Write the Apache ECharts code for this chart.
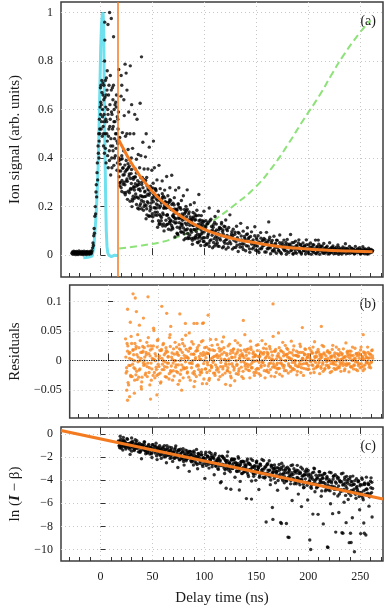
<!DOCTYPE html>
<html><head><meta charset="utf-8">
<script src="https://cdn.jsdelivr.net/npm/echarts@6/dist/echarts.min.js"></script>
<style>html,body{margin:0;padding:0;background:#fff}#c{width:385px;height:608px}</style>
</head><body><div id="c"></div><script>
// ---- tick values ----
const xMajorTicks=[0,50,100,150,200,250];
const xMinorTicks=[-30,-20,-10,10,20,30,40,60,70,80,90,110,120,130,140,160,170,180,190,210,220,230,240,260,270];
const yTicksA=[0,0.2,0.4,0.6,0.8,1];
const yTicksB=[-0.05,0,0.05,0.1];
const yTicksC=[-10,-8,-6,-4,-2,0];
const fitStart=17;
// ---- panel (a) ----
const cyanPulse=[[-16.5,-0.011],[-14,-0.01],[-11,-0.008],[-8,-0.004],[-6.5,0.03],[-5.4,0.09],[-4,0.18],[-3,0.28],[-2.3,0.36],[-1.5,0.5],[-0.8,0.64],[0.2,0.85],[1,0.95],[1.8,0.99],[2.5,1.0],[3.1,0.94],[3.6,0.72],[4.1,0.5],[5,0.23],[5.6,0.1],[6.3,0.035],[7,0.01],[8,0.0],[10.5,-0.006],[12,-0.002],[13.6,0.0],[15,-0.004],[16.7,-0.002]];
const greenCurve=[[18,0.027],[40,0.04],[60,0.055],[74,0.075],[90,0.1],[100,0.118],[113,0.155],[130,0.21],[148,0.275],[165,0.36],[180,0.453],[195,0.555],[211,0.659],[222,0.74],[233,0.817],[249,0.913],[260,0.968]];
const fitCurve=[[17,0.48],[20,0.455],[25,0.415],[30,0.378],[35,0.345],[40,0.315],[50,0.262],[60,0.219],[70,0.183],[80,0.153],[90,0.128],[100,0.106],[110,0.09],[120,0.077],[130,0.066],[140,0.057],[150,0.05],[160,0.043],[170,0.037],[180,0.032],[190,0.028],[200,0.025],[215,0.021],[230,0.018],[245,0.016],[262,0.014]];
const ionSignal=[
[-27.5,0.008],[-27,0.013],[-26.6,0.004],[-26.1,0.011],[-25.7,0.016],[-25.2,0.006],[-24.8,0.01],[-24.3,0.014],[-23.9,0.002],[-23.4,0.009],[-23,0.015],[-22.5,0.007],[-22.1,0.012],[-21.6,0.003],[-21.2,0.011],[-20.7,0.017],[-20.3,0.006],[-19.8,0.01],[-19.4,0.013],[-18.9,0.004],[-18.5,0.009],[-18,0.015],[-17.6,0.007],[-17.1,0.012],[-16.7,0.002],[-16.2,0.01],[-15.8,0.016],[-15.3,0.005],[-14.9,0.011],[-14.4,0.008],[-14,0.014],[-13.5,0.003],[-13.1,0.01],[-12.6,0.015],[-12.2,0.006],[-11.7,0.012],[-11.3,0.009],[-10.8,0.004],[-10.4,0.013],[-9.9,0.008],[-9.5,0.016],[-9,0.006],[-8.6,0.011],[-8.1,0.018],
[-7.6,0.03],[-7.2,0.05],[-6.8,0.04],[-6.5,0.08],[-6.1,0.11],[-5.8,0.09],[-5.4,0.16],[-5,0.2],[-4.7,0.17],[-4.3,0.26],[-4,0.29],[-3.7,0.24],[-3.3,0.34],[-3,0.38],[-2.7,0.31],[-2.3,0.45],[-2,0.42],[-1.7,0.5],[-1.3,0.47],[-1,0.56],[-0.7,0.52],[-0.3,0.61],[0,0.69],[0.2,0.58],[0.5,0.7],[0.8,0.62],[1.1,0.55],[1.4,0.67],[1.7,0.49],[2,0.6],[2.3,0.71],[2.6,0.53],[2.9,0.45],[3.2,0.64],[3.5,0.58],[3.8,0.42],[4,0.8],[4.1,0.96],[4.2,0.886],[4.5,0.5],[4.8,0.72],[5.1,0.61],[5.4,0.38],[5.7,0.73],[6,0.55],[6.3,0.68],[6.6,0.47],[7,0.6],[7.2,0.95],[7.5,0.36],[7.8,0.66],[8.1,0.52],[8.5,0.43],[8.8,1.0],[9.1,0.62],[9.4,0.56],[9.8,0.33],[10.1,0.48],[10.4,0.975],[10.4,0.68],[10.8,0.4],[11.1,0.58],[11.5,0.69],[11.8,0.45],[12,0.64],[12.3,0.53],[12.6,0.9],[12.9,0.37],[13.2,0.6],[13.6,0.48],[13.9,0.55],[14.3,0.41],[14.7,0.63],[15.2,0.61],[15.5,0.5],[15.9,0.35],[16.2,0.57],[16.6,0.46],[16.9,0.52],
[-1.5,0.4],[-0.5,0.5],[0.3,0.63],[0.7,0.52],[1.3,0.72],[1.9,0.57],[2.4,0.66],[2.8,0.5],[3.3,0.7],[3.7,0.55],[4.3,0.65],[4.7,0.44],[5.2,0.56],[5.6,0.66],[6.1,0.5],[6.5,0.76],[6.9,0.41],[7.3,0.58],[7.7,0.49],[8.2,0.7],[8.6,0.39],[9,0.53],[9.5,0.74],[9.9,0.45],[10.6,0.59],[11,0.36],[11.6,0.52],[12.1,0.43],[12.5,0.7],[13,0.55],[13.5,0.4],[14,0.62],[14.5,0.5],[15,0.44],[15.4,0.66],[15.8,0.47],[16.3,0.38],[16.7,0.56],
[17.6,0.765],[20.5,0.70],[23.7,0.787],[24.7,0.75],[25.5,0.68],[22.5,0.64],[19.9,0.74],[28.7,0.78],[38.2,0.626],[39.5,0.817],[44,0.5],[51,0.47],[30,0.62],[33,0.58],
[17.3,0.59],[17.9,0.39],[18.6,0.485],[19.2,0.30],[19.8,0.655],[20.5,0.41],[21.1,0.505],[21.7,0.33],
[22.3,0.43],[22.9,0.575],[23.5,0.29],[24.1,0.49],[24.8,0.39],[25.4,0.50],[26.0,0.23],[26.6,0.435],
[27.2,0.59],[27.8,0.335],[28.4,0.50],[29.0,0.275],[29.7,0.40],[30.3,0.20],[30.9,0.44],[31.5,0.32],
[32.1,0.50],[32.7,0.28],[33.3,0.356],[34.0,0.24],[34.6,0.395],[35.2,0.56],[35.8,0.307],[36.4,0.415],
[37.0,0.19],[37.7,0.36],[38.3,0.265],[38.9,0.41],[39.5,0.225],[40.2,0.32],[40.8,0.465],[41.4,0.185],
[42.0,0.355],[42.6,0.26],[43.3,0.405],[43.9,0.15],[44.5,0.32],[45.1,0.22],[45.7,0.355],[46.4,0.268],[47.0,0.445],
[47.6,0.183],[48.2,0.284],[48.8,0.215],[49.5,0.35],[50.1,0.14],[50.7,0.296],[51.3,0.25],[51.9,0.36],
[52.6,0.177],[53.2,0.271],[53.8,0.211],[54.4,0.31],[55.0,0.115],[55.7,0.242],[56.3,0.37],[56.9,0.167],
[57.5,0.274],[58.1,0.128],[58.7,0.215],[59.4,0.306],[60.0,0.174],[60.6,0.243],[61.2,0.10],[61.8,0.268],
[62.4,0.22],[63.0,0.144],[63.7,0.324],[64.3,0.167],[64.9,0.245],[65.5,0.107],[66.1,0.218],[66.8,0.278],
[67.4,0.14],[68.0,0.188],[68.6,0.329],[69.2,0.114],[69.9,0.214],[70.5,0.157],[71.1,0.237],[71.7,0.075],
[72.3,0.268],[73.0,0.134],[73.6,0.185],[74.2,0.088],[74.8,0.212],[75.4,0.278],[76.1,0.151],[76.7,0.196],
[77.3,0.097],[77.9,0.225],[78.5,0.128],[79.2,0.151],[79.8,0.245],[80.4,0.063],[81.0,0.171],[81.6,0.104],
[82.3,0.201],[82.9,0.125],[83.5,0.269],[84.1,0.068],[84.7,0.145],[85.4,0.178],[86.0,0.083],[86.6,0.208],
[87.2,0.101],[87.8,0.146],[88.5,0.045],[89.1,0.176],[89.7,0.122],[90.3,0.216],[90.9,0.067],[91.6,0.146],
[92.2,0.097],[92.8,0.185],[93.4,0.053],[94.0,0.126],[94.7,0.25],[95.3,0.076],[95.9,0.145],[96.5,0.04],
[97.1,0.163],[97.8,0.095],[98.4,0.124],[99.0,0.056],[99.6,0.181],[100.2,0.072],[100.9,0.107],[101.5,0.142],
[102.4,0.044],[103.1,0.129],[103.9,0.088],[104.7,0.194],[105.5,0.06],[106.3,0.148],
[107.1,0.099],[107.9,0.03],[108.7,0.125],[109.5,0.068],[110.3,0.159],[111.1,0.045],[111.8,0.104],
[112.6,0.072],[113.4,0.181],[114.2,0.036],[115.0,0.111],[115.8,0.083],[116.6,0.135],
[117.4,0.03],[118.2,0.087],[119.0,0.119],[119.8,0.049],[120.6,0.145],[121.4,0.065],
[122.2,0.101],[123.0,0.032],[123.8,0.072],[124.6,0.166],[125.4,0.047],[126.2,0.087],
[127.0,0.025],[127.8,0.107],[128.6,0.061],[129.4,0.086],[130.2,0.032],[131.0,0.119],
[131.8,0.072],[132.6,0.015],[133.4,0.09],[134.2,0.045],[135.0,0.131],[135.8,0.063],[136.6,0.034],
[137.4,0.099],[138.2,0.046],[139.0,0.069],[139.8,0.018],[140.6,0.085],[141.4,0.113],
[142.2,0.037],[143.0,0.073],[143.8,0.012],[144.6,0.055],[145.4,0.096],[146.2,0.026],
[147.0,0.063],[147.8,0.044],[148.6,0.117],[149.4,0.02],[150.2,0.071],[151.0,0.037],
[151.8,0.08],[152.6,0.011],[153.4,0.051],[154.2,0.093],[155.0,0.026],[155.8,0.059],[156.6,0.041],
[157.4,0.069],[158.2,0.013],[159.0,0.052],[159.8,0.094],[160.6,0.027],[161.4,0.059],
[162.0,0.137],[162.2,0.033],[163.0,0.074],[163.8,0.006],[164.6,0.044],[165.4,0.061],[166.2,0.02],
[167.0,0.078],[167.8,0.028],[168.6,0.049],[169.4,0.008],[170.2,0.061],[171.0,0.035],
[171.8,0.017],[172.6,0.083],[173.4,0.04],[174.2,0.006],[175.0,0.051],[175.8,0.029],[176.6,0.062],
[177.4,0.018],[178.2,0.042],[179.0,0.004],[179.8,0.065],[180.6,0.033],[181.4,0.011],
[182.2,0.045],[183.0,0.085],[183.8,0.02],[184.6,0.034],[185.4,0.005],[186.2,0.052],
[187.0,0.024],[187.8,0.058],[188.6,0.008],[189.4,0.039],[190.2,0.028],[191.0,0.063],
[191.8,0.013],[192.6,0.044],[193.4,0.005],[194.2,0.034],[195.0,0.05],[195.8,0.019],
[196.6,0.038],[197.4,0.005],[198.2,0.063],[199.0,0.027],[199.8,0.013],[200.6,0.043],
[201.4,0.021],[202.2,0.05],[203.0,0.004],[203.8,0.033],[204.6,0.016],[205.4,0.042],
[206.2,0.026],[207.0,0.062],[207.8,0.008],[208.6,0.034],[209.4,0.017],[209.7,0.062],[210.2,0.045],
[211.0,0.004],[211.8,0.028],[212.6,0.036],[213.4,0.013],[214.2,0.021],[215.0,0.048],[215.8,0.008],
[216.6,0.03],[217.4,0.017],[218.2,0.037],[219.0,0.005],[219.8,0.024],[220.6,0.051],
[221.4,0.012],[222.2,0.031],[223.0,0.019],[223.8,0.038],[224.6,0.006],[225.4,0.025],
[226.2,0.014],[227.0,0.033],[227.8,0.02],[228.6,0.042],[229.4,0.004],[230.2,0.025],
[231.0,0.009],[231.8,0.027],[232.6,0.018],[233.4,0.034],[234.2,0.011],[235.0,0.021],[235.8,0.047],
[236.6,0.006],[237.4,0.028],[238.2,0.014],[239.0,0.022],[239.8,0.036],[240.6,0.008],
[241.4,0.019],[242.2,0.028],[243.0,0.011],[243.8,0.023],[244.6,0.006],[245.4,0.036],
[246.2,0.02],[247.0,0.01],[247.8,0.026],[248.6,0.016],[249.4,0.031],[250.2,0.005],
[251.0,0.023],[251.8,0.012],[252.6,0.035],[253.4,0.019],[254.2,0.006],[255.0,0.026],
[255.8,0.015],[256.6,0.021],[257.4,0.005],[258.2,0.029],[259.0,0.017],[259.8,0.01],[260.6,0.024],[261.4,0.013],[262.0,0.019],
[17.5,0.40],[18.5,0.298],[19.5,0.347],[20.5,0.262],[21.5,0.358],[22.5,0.30],[23.5,0.371],[24.5,0.258],[25.5,0.314],[26.5,0.377],
[27.5,0.326],[28.5,0.222],[29.5,0.336],[30.5,0.273],[31.5,0.243],[32.5,0.233],[33.5,0.294],[34.5,0.338],[35.5,0.239],[36.5,0.271],
[37.5,0.30],[38.5,0.245],[39.5,0.191],[40.5,0.302],[41.5,0.22],[42.5,0.241],[43.5,0.308],[44.5,0.191],[45.5,0.251],[46.5,0.16],
[47.5,0.269],[48.5,0.192],[49.5,0.228],[50.5,0.158],[51.5,0.239],[52.5,0.194],[53.5,0.265],[54.5,0.164],[55.5,0.206],[56.5,0.126],
[57.5,0.224],[58.5,0.142],[59.5,0.253],[60.5,0.167],[61.5,0.196],[62.5,0.12],[63.5,0.195],[64.5,0.165],[65.5,0.218],[66.5,0.137],
[67.5,0.225],[68.5,0.122],[69.5,0.163],[70.5,0.138],[71.5,0.19],[72.5,0.149],[73.5,0.189],[74.5,0.084],[75.5,0.168],[76.5,0.11],
[77.5,0.189],[78.5,0.122],[79.5,0.162],[80.5,0.088],[81.5,0.132],[82.5,0.104],[83.5,0.189],[84.5,0.075],[85.5,0.137],[86.5,0.157],
[87.5,0.139],[88.5,0.061],[89.5,0.157],[90.5,0.105],[91.5,0.074],[92.5,0.163],[93.5,0.086],[94.5,0.112],[95.5,0.058],[96.5,0.131],
[97.5,0.068],[98.5,0.112],[99.5,0.14],[100.5,0.04],[101.5,0.116],[102.5,0.129],[103.5,0.081],[104.5,0.05],[105.5,0.142],[106.5,0.063],
[107.5,0.082],[108.5,0.115],[109.5,0.037],[110.5,0.098],[111.5,0.128],[112.5,0.05],[113.5,0.088],[114.5,0.114],[115.5,0.062],[116.5,0.128],
[117.5,0.097],[118.5,0.035],[119.5,0.078],[120.5,0.062],[121.5,0.107],
[122.5,0.047],[123.5,0.114],[124.5,0.055],[125.5,0.078],[126.5,0.097],
[127.5,0.081],[128.5,0.031],[129.5,0.095],[130.5,0.055],[131.5,0.041],[132.5,0.094],[133.5,0.062],[134.5,0.033],[135.5,0.079],[136.5,0.047],
[137.5,0.023],[138.5,0.077],[139.5,0.063],[140.5,0.039],[141.5,0.087],[142.5,0.068],[143.5,0.026],[144.5,0.077],[145.5,0.046],[146.5,0.054],
[147.5,0.032],[148.5,0.08],[149.5,0.04],[150.5,0.064],[151.5,0.018],[152.5,0.054],[153.5,0.026],[154.5,0.07],[155.5,0.032],[156.5,0.062],
[157.5,0.041],[158.5,0.064],[159.5,0.013],[160.5,0.051],[161.5,0.026],[162.5,0.065],[163.5,0.03],[164.5,0.053],[165.5,0.017],[166.5,0.042],
[167.5,0.016],[168.5,0.043],[169.5,0.062],[170.5,0.032],[171.5,0.02],[172.5,0.051],[173.5,0.011],[174.5,0.036],[175.5,0.043],[176.5,0.023],
[177.5,0.027],[178.5,0.052],[179.5,0.016],[180.5,0.045],[181.5,0.031],[182.5,0.04],[183.5,0.019],[184.5,0.051],[185.5,0.006],[186.5,0.033],
[187.5,0.013],[188.5,0.039],[189.5,0.024],[190.5,0.05],[191.5,0.018],[192.5,0.042],[193.5,0.01],[194.5,0.031],[195.5,0.019],[196.5,0.038],
[197.5,0.016],[198.5,0.043],[199.5,0.025],[200.5,0.007],[201.5,0.031],[202.5,0.033],[203.5,0.019],[204.5,0.043],[205.5,0.011],[206.5,0.025],
[207.5,0.006],[208.5,0.035],[209.5,0.015],[210.5,0.026],[211.5,0.037],[212.5,0.019],[213.5,0.038],[214.5,0.008],[215.5,0.028],[216.5,0.013],
[217.5,0.032],[218.5,0.015],[219.5,0.023],[220.5,0.006],[221.5,0.028],[222.5,0.011],[223.5,0.032],[224.5,0.018],[225.5,0.027],[226.5,0.007],
[227.5,0.023],[228.5,0.01],[229.5,0.032],[230.5,0.015],[231.5,0.019],[232.5,0.005],[233.5,0.025],[234.5,0.012],[235.5,0.029],[236.5,0.019],
[237.5,0.025],[238.5,0.008],[239.5,0.02],[240.5,0.015],[241.5,0.029],[242.5,0.011],[243.5,0.024],[244.5,0.006],[245.5,0.02],[246.5,0.016],
[247.5,0.025],[248.5,0.012],[249.5,0.021],[250.5,0.007],[251.5,0.019],[252.5,0.009],[253.5,0.026],[254.5,0.014],[255.5,0.02],[256.5,0.006],
[257.5,0.02],[258.5,0.009],[259.5,0.022],[260.5,0.014],[261.5,0.018],
[17.9,0.323],[18.9,0.375],[19.9,0.278],[20.9,0.397],[21.9,0.292],[22.9,0.331],[23.9,0.249],[24.9,0.35],[25.9,0.304],[26.9,0.36],
[27.9,0.257],[28.9,0.316],[29.9,0.353],[30.9,0.223],[31.9,0.282],[32.9,0.322],[33.9,0.252],[34.9,0.285],[35.9,0.193],[36.9,0.291],
[37.9,0.204],[38.9,0.319],[39.9,0.243],[40.9,0.278],[41.9,0.2],[42.9,0.264],[43.9,0.204],[44.9,0.285],[45.9,0.215],[46.9,0.162],
[47.9,0.201],[48.9,0.275],[49.9,0.171],[50.9,0.22],[51.9,0.249],[52.9,0.274],[53.9,0.194],[54.9,0.226],[55.9,0.142],[56.9,0.195],
[57.9,0.161],[58.9,0.23],[59.9,0.12],[60.9,0.193],[61.9,0.236],[62.9,0.194],[63.9,0.126],[64.9,0.205],[65.9,0.152],[66.9,0.13],
[67.9,0.104],[68.9,0.188],[69.9,0.159],[70.9,0.207],[71.9,0.132],[72.9,0.187],[73.9,0.115],[74.9,0.209],[75.9,0.134],[76.9,0.155],
[77.9,0.094],[78.9,0.144],[79.9,0.112],[80.9,0.188],[81.9,0.069],[82.9,0.158],[83.9,0.089],[84.9,0.17],[85.9,0.123],[86.9,0.105],
[87.9,0.069],[88.9,0.152],[89.9,0.106],[90.9,0.17],[91.9,0.08],[92.9,0.121],[93.9,0.051],[94.9,0.142],[95.9,0.085],[96.9,0.105],
[97.9,0.142],[98.9,0.072],[99.9,0.095],[100.9,0.12],[101.9,0.047],[102.9,0.073],[103.9,0.136],[104.9,0.036],[105.9,0.099],[106.9,0.118],
[107.9,0.104],[108.9,0.052],[109.9,0.135],[110.9,0.076],[111.9,0.061],[112.9,0.038],[113.9,0.104],[114.9,0.068],[115.9,0.11],[116.9,0.08],
[117.9,0.104],[118.9,0.056],[119.9,0.117],[120.9,0.025],[121.9,0.081],
[17.7,0.347],[18.7,0.286],[19.7,0.395],[20.7,0.308],[21.7,0.36],[22.7,0.257],[23.7,0.343],[24.7,0.306],[25.7,0.354],[26.7,0.264],
[27.7,0.366],[28.7,0.269],[29.7,0.295],[30.7,0.232],[31.7,0.313],[32.7,0.268],[33.7,0.322],[34.7,0.209],[35.7,0.289],[36.7,0.234],
[37.7,0.273],[38.7,0.212],[39.7,0.291],[40.7,0.24],[41.7,0.312],[42.7,0.208],[43.7,0.243],[44.7,0.166],[45.7,0.273],[46.7,0.247],
[47.7,0.255],[48.7,0.161],[49.7,0.237],[50.7,0.276],[51.7,0.196],[52.7,0.165],[53.7,0.232],[54.7,0.177],[55.7,0.247],[56.7,0.132],
[57.7,0.202],[58.7,0.155],[59.7,0.238],[60.7,0.129],[61.7,0.205],[62.7,0.218],[63.7,0.164],[64.7,0.128],[65.7,0.196],[66.7,0.228],
[67.7,0.144],[68.7,0.209],[69.7,0.109],[70.7,0.17],[71.7,0.152],[72.7,0.174],[73.7,0.09],[74.7,0.153],[75.7,0.197],[76.7,0.116],
[77.7,0.129],[78.7,0.17],[79.7,0.096],[80.7,0.149],[81.7,0.177],[82.7,0.183],[83.7,0.108],[84.7,0.135],[85.7,0.069],[86.7,0.147],
[87.7,0.094],[88.7,0.123],[89.7,0.071],[90.7,0.145],[91.7,0.161],[92.7,0.109],[93.7,0.07],[94.7,0.164],[95.7,0.079],[96.7,0.121],
[97.7,0.088],[98.7,0.135],[99.7,0.056]
];
// ---- panel (b) ----
const residuals=[
[17.3,0.037],[18.3,-0.012],[19.3,0.016],[20.3,-0.041],[21.3,0.004],[22.3,-0.025],[23.3,0.029],[24.3,-0.006],[25.3,0.010],[26.3,-0.033],
[27.3,0.020],[28.3,-0.018],[29.3,0.044],[30.3,-0.028],[31.3,0.0],[32.3,0.014],[33.3,-0.036],[34.3,0.024],[35.3,-0.008],[36.3,0.006],
[37.3,-0.021],[38.3,0.031],[39.3,-0.004],[40.3,0.012],[41.3,-0.041],[42.3,0.025],[43.3,-0.014],[44.3,0.002],[45.3,0.051],[46.3,-0.029],
[47.3,0.008],[48.3,-0.025],[49.3,0.036],[50.3,-0.010],[51.3,0.017],[52.3,-0.036],[53.3,0.004],[54.3,0.027],[55.3,-0.015],[56.3,-0.002],
[57.3,0.022],[58.3,-0.011],[59.3,0.006],[60.3,-0.031],[61.3,0.044],[62.3,-0.019],[63.3,0.013],[64.3,-0.004],[65.3,-0.026],[66.3,0.031],
[67.3,-0.007],[68.3,0.014],[69.3,-0.040],[70.3,0.027],[71.3,0.0],[72.3,-0.016],[73.3,0.036],[74.3,-0.029],[75.3,0.009],[76.3,-0.013],
[77.3,0.019],[78.3,-0.021],[79.3,0.004],[80.3,0.047],[81.3,-0.033],[82.3,0.011],[83.3,-0.005],[84.3,0.028],[85.3,-0.018],[86.3,0.002],
[87.3,-0.027],[88.3,0.022],[89.3,-0.009],[90.3,0.007],[91.3,-0.019],[92.3,0.032],[93.3,-0.039],[94.3,0.014],[95.3,0.0],[96.3,-0.014],
[97.3,0.023],[98.3,-0.003],[99.3,0.012],[100.3,-0.030],[101.3,0.036],[102.3,-0.012],[103.3,0.005],[104.3,-0.021],[105.3,0.017],[106.3,-0.007],
[107.3,-0.016],[108.3,0.027],[109.3,-0.032],[110.3,0.008],[111.3,-0.010],[112.3,0.019],[113.3,-0.024],[114.3,0.040],[115.3,0.002],[116.3,-0.005],
[117.3,0.012],[118.3,-0.017],[119.3,0.0],[120.3,0.028],[121.3,-0.026],[122.3,0.006],[123.3,-0.009],[124.3,0.020],[125.3,-0.034],[126.3,0.011],
[127.3,-0.008],[128.3,0.030],[129.3,-0.018],[130.3,0.005],[131.3,0.017],[132.3,-0.027],[133.3,0.009],[134.3,-0.002],[135.3,0.044],[136.3,-0.014],
[137.3,0.019],[138.3,-0.010],[139.3,0.003],[140.3,-0.029],[141.3,0.023],[142.3,-0.004],[143.3,0.012],[144.3,-0.020],[145.3,0.007],[146.3,-0.015],
[147.3,0.0],[148.3,0.027],[149.3,-0.022],[150.3,0.008],[151.3,-0.011],[152.3,0.034],[153.3,-0.003],[154.3,0.014],[155.3,-0.029],[156.3,0.006],
[157.3,-0.016],[158.3,0.012],[159.3,-0.005],[160.3,0.020],[161.3,-0.026],[162.3,0.003],[163.3,0.041],[164.3,-0.009],[165.3,0.016],[166.3,-0.020],
[167.3,0.008],[168.3,-0.013],[169.3,0.022],[170.3,-0.004],[171.3,0.001],[172.3,-0.026],[173.3,0.014],[174.3,-0.008],[175.3,0.026],[176.3,-0.017],
[177.3,0.011],[178.3,-0.021],[179.3,0.005],[180.3,-0.010],[181.3,0.033],[182.3,-0.003],[183.3,0.018],[184.3,-0.015],[185.3,0.0],[186.3,0.009],
[187.3,-0.018],[188.3,0.014],[189.3,-0.006],[190.3,0.024],[191.3,-0.012],[192.3,0.004],[193.3,-0.025],[194.3,0.010],[195.3,0.019],[196.3,-0.005],
[197.3,0.006],[198.3,-0.008],[199.3,0.021],[200.3,-0.021],[201.3,0.001],[202.3,0.013],[203.3,-0.014],[204.3,0.032],[205.3,-0.003],[206.3,0.007],
[207.3,-0.010],[208.3,0.015],[209.3,-0.022],[210.3,0.004],[211.3,0.010],[212.3,-0.006],[213.3,0.024],[214.3,-0.015],[215.3,0.002],[216.3,-0.002],
[217.3,0.017],[218.3,-0.012],[219.3,0.0],[220.3,0.007],[221.3,-0.018],[222.3,0.026],[223.3,-0.006],[224.3,0.013],[225.3,-0.001],[226.3,-0.014],
[227.3,0.003],[228.3,0.019],[229.3,-0.008],[230.3,-0.018],[231.3,0.010],[232.3,-0.003],[233.3,0.006],[234.3,-0.014],[235.3,0.030],[236.3,-0.005],
[237.3,0.011],[238.3,-0.019],[239.3,0.004],[240.3,0.016],[241.3,-0.010],[242.3,0.001],[243.3,-0.007],[244.3,0.021],[245.3,-0.015],[246.3,0.008],
[247.3,-0.004],[248.3,0.009],[249.3,-0.012],[250.3,0.023],[251.3,0.002],[252.3,-0.017],[253.3,0.013],[254.3,-0.007],[255.3,0.005],[256.3,-0.002],
[257.3,0.014],[258.3,-0.011],[259.3,0.005],[260.3,-0.003],[261.3,0.018],
[17.8,-0.021],[18.8,0.029],[19.8,-0.037],[20.8,0.012],[21.8,-0.008],[22.8,0.041],[23.8,-0.027],[24.8,0.018],[25.8,0.0],[26.8,-0.014],
[27.8,0.024],[28.8,-0.032],[29.8,0.006],[30.8,-0.016],[31.8,0.034],[32.8,-0.044],[33.8,0.014],[34.8,-0.004],[35.8,0.022],[36.8,-0.024],
[37.8,0.010],[38.8,-0.027],[39.8,0.039],[40.8,-0.012],[41.8,0.018],[42.8,-0.033],[43.8,0.004],[44.8,0.025],[45.8,-0.020],[46.8,0.0],
[47.8,-0.015],[48.8,0.034],[49.8,-0.023],[50.8,0.008],[51.8,-0.038],[52.8,0.019],[53.8,-0.006],[54.8,0.029],[55.8,-0.010],[56.8,0.013],
[57.8,-0.028],[58.8,0.015],[59.8,-0.004],[60.8,0.039],[61.8,-0.017],[62.8,0.006],[63.8,-0.033],[64.8,0.020],[65.8,0.0],[66.8,-0.011],
[67.8,0.023],[68.8,-0.020],[69.8,0.009],[70.8,-0.034],[71.8,0.018],[72.8,-0.007],[73.8,0.029],[74.8,-0.014],[75.8,0.004],[76.8,0.043],
[77.8,-0.012],[78.8,0.005],[79.8,-0.028],[80.8,0.021],[81.8,-0.004],[82.8,0.032],[83.8,-0.021],[84.8,0.011],[85.8,-0.035],[86.8,0.016],
[87.8,0.017],[88.8,-0.007],[89.8,0.026],[90.8,-0.024],[91.8,0.002],[92.8,-0.015],[93.8,0.034],[94.8,-0.031],[95.8,0.010],[96.8,0.005],
[97.8,-0.020],[98.8,0.012],[99.8,-0.033],[100.8,0.018],[101.8,-0.008],[102.8,0.026],[103.8,-0.003],[104.8,0.007],[105.8,-0.025],[106.8,0.036],
[107.8,0.010],[108.8,-0.014],[109.8,0.021],[110.8,-0.027],[111.8,0.003],[112.8,0.032],[113.8,-0.010],[114.8,0.014],[115.8,-0.021],[116.8,0.0],
[117.8,-0.017],[118.8,0.025],[119.8,-0.006],[120.8,0.012],[121.8,-0.029],[122.8,0.005],[123.8,0.019],[124.8,-0.012],[125.8,0.034],[126.8,-0.022],
[127.8,0.014],[128.8,-0.023],[129.8,0.003],[130.8,0.026],[131.8,-0.011],[132.8,0.008],[133.8,-0.030],[134.8,0.018],[135.8,-0.005],[136.8,0.009],
[137.8,-0.006],[138.8,0.020],[139.8,-0.017],[140.8,0.033],[141.8,-0.012],[142.8,0.0],[143.8,0.015],[144.8,-0.025],[145.8,0.009],[146.8,0.026],
[147.8,0.017],[148.8,-0.014],[149.8,0.006],[150.8,-0.025],[151.8,0.013],[152.8,-0.003],[153.8,0.021],[154.8,-0.008],[155.8,0.028],[156.8,-0.018],
[157.8,0.009],[158.8,-0.020],[159.8,0.024],[160.8,-0.004],[161.8,0.015],[162.8,-0.011],[163.8,0.001],[164.8,-0.027],[165.8,0.019],[166.8,-0.007],
[167.8,-0.014],[168.8,0.007],[169.8,-0.023],[170.8,0.017],[171.8,-0.005],[172.8,0.031],[173.8,-0.012],[174.8,0.010],[175.8,0.0],[176.8,0.021],
[177.8,0.019],[178.8,-0.008],[179.8,0.003],[180.8,-0.018],[181.8,0.013],[182.8,-0.013],[183.8,0.025],[184.8,-0.004],[185.8,0.009],[186.8,-0.024],
[187.8,0.007],[188.8,-0.010],[189.8,0.028],[190.8,-0.020],[191.8,0.001],[192.8,0.014],[193.8,-0.005],[194.8,0.020],[195.8,-0.014],[196.8,0.005],
[197.8,-0.015],[198.8,0.010],[199.8,0.0],[200.8,0.017],[201.8,-0.007],[202.8,0.023],[203.8,-0.020],[204.8,0.005],[205.8,0.013],[206.8,-0.010],
[207.8,0.019],[208.8,-0.003],[209.8,0.008],[210.8,-0.013],[211.8,0.026],[212.8,-0.018],[213.8,0.011],[214.8,0.002],[215.8,-0.008],[216.8,0.015],
[217.8,-0.008],[218.8,0.013],[219.8,-0.020],[220.8,0.005],[221.8,0.019],[222.8,-0.004],[223.8,0.009],[224.8,-0.015],[225.8,0.023],[226.8,0.001],
[227.8,0.010],[228.8,-0.012],[229.8,0.014],[230.8,-0.005],[231.8,0.003],[232.8,0.020],[233.8,-0.017],[234.8,0.007],[235.8,-0.008],[236.8,0.016],
[237.8,-0.006],[238.8,0.016],[239.8,-0.010],[240.8,0.008],[241.8,0.023],[242.8,-0.014],[243.8,0.004],[244.8,-0.002],[245.8,0.012],[246.8,-0.017],
[247.8,0.013],[248.8,-0.006],[249.8,0.018],[250.8,-0.011],[251.8,0.005],[252.8,0.015],[253.8,-0.014],[254.8,0.009],[255.8,-0.003],[256.8,0.023],
[257.8,-0.005],[258.8,0.011],[259.8,-0.012],[260.8,0.017],[261.8,0.004],
[17.55,0.006],[18.55,-0.018],[19.55,0.025],[20.55,-0.008],[21.55,0.014],[22.55,-0.027],[23.55,0.002],[24.55,0.018],[25.55,-0.012],[26.55,0.029],
[27.55,-0.024],[28.55,0.010],[29.55,-0.002],[30.55,0.022],[31.55,-0.014],[32.55,0.004],[33.55,-0.028],[34.55,0.016],[35.55,0.0],[36.55,-0.006],
[37.55,0.014],[38.55,-0.010],[39.55,0.025],[40.55,-0.020],[41.55,0.008],[42.55,-0.004],[43.55,0.020],[44.55,-0.025],[45.55,0.002],[46.55,0.012],
[47.55,-0.011],[48.55,0.023],[49.55,-0.006],[50.55,0.004],[51.55,-0.021],[52.55,0.017],[53.55,-0.015],[54.55,0.0],[55.55,0.010],[56.55,-0.027],
[57.55,0.017],[58.55,-0.004],[59.55,0.007],[60.55,-0.022],[61.55,0.024],[62.55,-0.009],[63.55,0.002],[64.55,-0.017],[65.55,0.011],[66.55,0.0],
[67.55,-0.018],[68.55,0.011],[69.55,-0.007],[70.55,0.020],[71.55,-0.023],[72.55,0.004],[73.55,0.014],[74.55,-0.011],[75.55,0.025],[76.55,-0.002],
[77.55,0.007],[78.55,-0.019],[79.55,0.016],[80.55,-0.004],[81.55,0.021],[82.55,-0.012],[83.55,0.0],[84.55,0.011],[85.55,-0.023],[86.55,0.005],
[87.55,-0.009],[88.55,0.017],[89.55,-0.015],[90.55,0.002],[91.55,0.012],[92.55,-0.020],[93.55,0.009],[94.55,-0.005],[95.55,0.022],[96.55,-0.014],
[97.55,0.013],[98.55,-0.007],[99.55,0.020],[100.55,-0.017],[101.55,0.003],[102.55,-0.010],[103.55,0.018],[104.55,0.0],[105.55,-0.021],[106.55,0.008],
[107.55,-0.011],[108.55,0.005],[109.55,-0.019],[110.55,0.016],[111.55,-0.003],[112.55,0.011],[113.55,-0.014],[114.55,0.022],[115.55,0.002],[116.55,-0.008],
[117.55,0.009],[118.55,-0.012],[119.55,0.003],[120.55,-0.020],[121.55,0.017],[122.55,-0.005],[123.55,0.014],[124.55,-0.016],[125.55,0.006],[126.55,0.0],
[127.55,-0.006],[128.55,0.018],[129.55,-0.014],[130.55,0.009],[131.55,-0.002],[132.55,0.012],[133.55,-0.018],[134.55,0.005],[135.55,-0.009],[136.55,0.015],
[137.55,0.003],[138.55,-0.016],[139.55,0.013],[140.55,-0.007],[141.55,0.019],[142.55,-0.012],[143.55,0.006],[144.55,-0.001],[145.55,0.010],[146.55,-0.020],
[147.55,-0.013],[148.55,0.007],[149.55,-0.003],[150.55,0.015],[151.55,-0.008],[152.55,0.0],[153.55,0.011],[154.55,-0.017],[155.55,0.004],[156.55,0.020],
[157.55,0.014],[158.55,-0.009],[159.55,0.005],[160.55,-0.015],[161.55,0.001],[162.55,0.009],[163.55,-0.005],[164.55,0.016],[165.55,-0.012],[166.55,0.003],
[167.55,-0.004],[168.55,0.012],[169.55,-0.013],[170.55,0.004],[171.55,0.016],[172.55,-0.008],[173.55,0.008],[174.55,-0.017],[175.55,0.0],[176.55,0.010],
[177.55,0.006],[178.55,-0.005],[179.55,0.014],[180.55,-0.011],[181.55,0.003],[182.55,-0.015],[183.55,0.009],[184.55,0.0],[185.55,-0.008],[186.55,0.016],
[187.55,-0.010],[188.55,0.008],[189.55,-0.001],[190.55,0.014],[191.55,-0.006],[192.55,0.004],[193.55,-0.013],[194.55,0.011],[195.55,0.001],[196.55,-0.004],
[197.55,0.010],[198.55,-0.014],[199.55,0.005],[200.55,-0.002],[201.55,0.013],[202.55,-0.008],[203.55,0.0],[204.55,0.007],[205.55,-0.012],[206.55,0.015],
[207.55,-0.007],[208.55,0.002],[209.55,0.011],[210.55,-0.010],[211.55,0.006],[212.55,-0.003],[213.55,0.013],[214.55,-0.013],[215.55,0.008],[216.55,0.0],
[217.55,0.004],[218.55,-0.011],[219.55,0.014],[220.55,-0.005],[221.55,0.008],[222.55,-0.001],[223.55,-0.013],[224.55,0.006],[225.55,-0.007],[226.55,0.012],
[227.55,-0.011],[228.55,0.009],[229.55,-0.003],[230.55,0.002],[231.55,0.012],[232.55,-0.008],[233.55,0.005],[234.55,-0.006],[235.55,0.001],[236.55,0.014],
[237.55,0.007],[238.55,-0.005],[239.55,0.010],[240.55,-0.011],[241.55,0.0],[242.55,0.009],[243.55,-0.008],[244.55,0.003],[245.55,0.012],[246.55,-0.002],
[247.55,-0.008],[248.55,0.004],[249.55,0.011],[250.55,-0.005],[251.55,0.007],[252.55,-0.009],[253.55,0.002],[254.55,0.013],[255.55,-0.003],[256.55,0.005],
[257.55,0.004],[258.55,-0.007],[259.55,0.011],[260.55,-0.002],[261.55,0.008],
[19.3,0.087],[24.7,0.113],[26.9,0.106],[28,0.083],[39.5,0.108],[53.1,0.092],[58,0.08],[71,0.079],[76.5,0.063],[85,0.063],[88,0.063],[93.5,0.063],[94.4,0.064],[99,0.077],[133.8,0.068],[163.2,0.096],[168.6,0.047],[192.2,0.056],[211,0.058],[252.4,0.044],
[19.3,-0.067],[21.3,-0.061],[42,-0.065],[48.3,-0.058],[72.8,-0.05],[85,-0.044],[97.6,-0.039],[116.3,-0.04],[121,-0.042],[22,0.065],[31,0.06],[35,0.072],[45,0.055],[62,0.058],[18.5,-0.05],[26,-0.055],[33,-0.048]
];
// ---- panel (c) ----
const lnFit=[[-38,0.29],[272,-5.64]];
const lnSignal=[
[17.5,-0.72],[18.5,-1.19],[19.5,-0.46],[20.5,-0.98],[21.5,-1.40],[22.5,-0.62],[23.5,-0.88],[24.5,-1.30],[25.5,-0.41],[26.5,-1.09],
[27.5,-0.94],[28.5,-1.77],[29.5,-0.72],[30.5,-1.11],[31.5,-0.83],[32.5,-1.44],[33.5,-0.50],[34.5,-1.22],[35.5,-1.00],[36.5,-1.55],
[37.5,-0.81],[38.5,-1.51],[39.5,-2.15],[40.5,-1.02],[41.5,-1.31],[42.5,-0.70],[43.5,-1.71],[44.5,-1.13],[45.5,-1.42],[46.5,-0.90],
[47.5,-1.74],[48.5,-1.23],[49.5,-2.04],[50.5,-0.93],[51.5,-1.41],[52.5,-1.65],[53.5,-0.81],[54.5,-2.22],[55.5,-1.14],[56.5,-1.50],
[57.5,-1.24],[58.5,-2.12],[59.5,-1.49],[60.5,-1.77],[61.5,-1.01],[62.5,-1.99],[63.5,-2.50],[64.5,-1.36],[65.5,-1.61],[66.5,-1.14],
[67.5,-1.89],[68.5,-1.19],[69.5,-2.38],[70.5,-1.59],[71.5,-2.08],[72.5,-1.03],[73.5,-1.82],[74.5,-2.91],[75.5,-1.42],[76.5,-2.22],
[77.5,-1.64],[78.5,-2.15],[79.5,-1.27],[80.5,-2.70],[81.5,-1.88],[82.5,-2.32],[83.5,-1.47],[84.5,-2.08],[85.5,-3.24],[86.5,-1.78],
[87.5,-2.41],[88.5,-1.55],[89.5,-2.69],[90.5,-1.87],[91.5,-2.12],[92.5,-1.34],[93.5,-3.01],[94.5,-1.73],[95.5,-2.55],[96.5,-2.19],
[97.5,-1.81],[98.5,-2.81],[99.5,-2.15],[100.5,-3.85],[101.5,-1.59],[102.5,-2.48],[103.5,-2.00],[104.5,-2.96],[105.5,-2.26],[106.5,-1.70],
[107.5,-2.84],[108.5,-2.07],[109.5,-3.54],[110.5,-1.69],[111.5,-2.57],[112.5,-2.26],[113.5,-3.07],[114.5,-1.92],[115.5,-4.23],[116.5,-2.69],
[117.5,-1.95],[118.5,-2.67],[119.5,-3.43],[120.5,-2.31],[121.5,-2.99],[122.5,-1.55],[123.5,-3.15],[124.5,-2.51],[125.5,-4.79],[126.5,-2.15],
[127.5,-2.97],[128.5,-2.19],[129.5,-3.75],[130.5,-2.56],[131.5,-3.25],[132.5,-1.98],[133.5,-2.80],[134.5,-4.11],[135.5,-2.39],[136.5,-3.42],
[137.5,-2.41],[138.5,-3.26],[139.5,-2.80],[140.5,-5.60],[141.5,-2.16],[142.5,-3.69],[143.5,-2.63],[144.5,-3.05],[145.5,-4.07],[146.5,-2.29],
[147.5,-3.67],[148.5,-2.74],[149.5,-4.02],[150.5,-2.35],[151.5,-3.09],[152.5,-4.81],[153.5,-2.61],[154.5,-3.40],[155.5,-2.21],[156.5,-3.75],
[157.5,-3.04],[158.5,-3.76],[159.5,-7.63],[160.5,-2.64],[161.5,-3.45],[162.5,-2.32],[163.5,-4.39],[164.5,-2.86],[165.5,-6.37],[166.5,-3.31],
[167.5,-2.68],[168.5,-4.22],[169.5,-3.29],[170.5,-4.87],[171.5,-2.96],[172.5,-3.71],[173.5,-7.66],[174.5,-2.54],[175.5,-4.03],[176.5,-3.15],
[177.5,-3.93],[178.5,-2.97],[179.5,-4.70],[180.5,-8.93],[181.5,-3.26],[182.5,-3.69],[183.5,-2.73],[184.5,-5.76],[185.5,-3.50],[186.5,-4.32],
[187.5,-3.23],[188.5,-4.31],[189.5,-2.72],[190.5,-5.21],[191.5,-3.92],[192.5,-3.42],[193.5,-6.29],[194.5,-3.03],[195.5,-4.66],[196.5,-3.57],
[197.5,-4.19],[198.5,-3.06],[199.5,-5.72],[200.5,-3.47],[201.5,-9.18],[202.5,-4.59],[203.5,-3.73],[204.5,-6.94],[205.5,-2.96],[206.5,-5.00],
[207.5,-3.58],[208.5,-4.57],[209.5,-6.96],[210.5,-3.27],[211.5,-4.21],[212.5,-5.40],[213.5,-3.84],[214.5,-7.79],[215.5,-3.43],[216.5,-4.93],
[217.5,-3.90],[218.5,-9.78],[219.5,-4.86],[220.5,-3.31],[221.5,-6.04],[222.5,-4.22],[223.5,-6.90],[224.5,-3.63],[225.5,-4.59],[226.5,-8.50],
[227.5,-3.67],[228.5,-5.37],[229.5,-6.80],[230.5,-4.11],[231.5,-4.82],[232.5,-8.56],[233.5,-3.39],[234.5,-5.92],[235.5,-4.27],[236.5,-7.68],
[237.5,-4.10],[238.5,-5.68],[239.5,-9.41],[240.5,-3.70],[241.5,-4.89],[242.5,-7.26],[243.5,-4.38],[244.5,-10.2],[245.5,-5.23],[246.5,-3.87],
[247.5,-4.95],[248.5,-4.09],[249.5,-6.56],[250.5,-8.63],[251.5,-3.80],[252.5,-5.53],[253.5,-7.71],[254.5,-4.38],[255.5,-8.75],[256.5,-4.78],
[257.5,-4.27],[258.5,-6.25],[259.5,-5.20],[260.5,-3.80],[261.5,-7.19],
[18,-1.04],[19,-0.62],[20,-1.24],[21,-0.83],[22,-0.54],[23,-1.11],[24,-0.75],[25,-0.96],[26,-0.46],[27,-1.19],
[28,-0.83],[29,-1.16],[30,-1.49],[31,-0.66],[32,-1.05],[33,-1.33],[34,-0.89],[35,-0.58],[36,-1.24],[37,-0.97],
[38,-1.60],[39,-1.10],[40,-0.90],[41,-1.37],[42,-0.70],[43,-1.45],[44,-1.19],[45,-1.66],[46,-1.02],[47,-1.28],
[48,-1.20],[49,-1.71],[50,-0.93],[51,-1.47],[52,-1.38],[53,-1.08],[54,-1.89],[55,-1.26],[56,-1.56],[57,-1.02],
[58,-1.80],[59,-1.46],[60,-1.14],[61,-1.99],[62,-1.33],[63,-1.68],[64,-1.01],[65,-1.87],[66,-1.52],[67,-2.12],
[68,-1.39],[69,-1.79],[70,-1.59],[71,-2.12],[72,-1.22],[73,-1.95],[74,-1.72],[75,-1.46],[76,-2.25],[77,-1.32],
[78,-2.02],[79,-1.57],[80,-2.39],[81,-1.81],[82,-1.40],[83,-2.19],[84,-1.68],[85,-1.95],[86,-1.51],[87,-2.29],
[88,-1.80],[89,-2.26],[90,-1.48],[91,-2.44],[92,-1.98],[93,-2.65],[94,-1.70],[95,-2.05],[96,-2.33],[97,-1.59],
[98,-2.66],[99,-2.07],[100,-2.33],[101,-1.78],[102,-2.74],[103,-1.92],[104,-2.48],[105,-1.59],[106,-2.26],[107,-2.59],
[108,-2.03],[109,-2.57],[110,-1.84],[111,-2.80],[112,-2.30],[113,-3.00],[114,-2.15],[115,-2.38],[116,-2.69],[117,-1.92],
[118,-2.79],[119,-2.11],[120,-3.11],[121,-2.39],[122,-1.91],[123,-2.91],[124,-2.51],[125,-3.27],[126,-2.27],[127,-2.67],
[128,-2.23],[129,-2.88],[130,-2.47],[131,-3.21],[132,-2.72],[133,-2.11],[134,-3.05],[135,-2.60],[136,-3.42],[137,-2.35],
[138,-3.31],[139,-2.67],[140,-2.97],[141,-2.33],[142,-3.52],[143,-2.54],[144,-3.14],[145,-2.16],[146,-2.84],[147,-3.39],
[148,-2.79],[149,-3.45],[150,-2.43],[151,-3.18],[152,-2.92],[153,-3.75],[154,-2.61],[155,-3.31],[156,-3.05],[157,-2.30],
[158,-3.81],[159,-2.86],[160,-3.40],[161,-2.55],[162,-3.63],[163,-3.13],[164,-3.99],[165,-2.73],[166,-3.27],[167,-3.00],
[168,-2.92],[169,-3.66],[170,-3.24],[171,-4.03],[172,-2.64],[173,-3.47],[174,-3.05],[175,-3.89],[176,-2.78],[177,-4.22],
[178,-3.36],[179,-4.03],[180,-2.88],[181,-3.74],[182,-3.12],[183,-4.32],[184,-3.55],[185,-2.69],[186,-3.89],[187,-3.26],
[188,-4.17],[189,-3.13],[190,-3.82],[191,-3.42],[192,-4.41],[193,-2.88],[194,-3.97],[195,-3.62],[196,-4.61],[197,-3.23],
[198,-3.52],[199,-4.44],[200,-3.17],[201,-4.08],[202,-3.83],[203,-4.70],[204,-3.37],[205,-4.29],[206,-3.01],[207,-3.98],
[208,-4.67],[209,-3.79],[210,-4.36],[211,-3.27],[212,-4.05],[213,-4.93],[214,-3.58],[215,-4.21],[216,-3.43],[217,-4.52],
[218,-3.69],[219,-4.43],[220,-4.11],[221,-4.92],[222,-3.36],[223,-4.65],[224,-3.90],[225,-5.18],[226,-3.52],[227,-4.27],
[228,-4.71],[229,-3.78],[230,-5.21],[231,-4.16],[232,-3.45],[233,-4.93],[234,-4.38],[235,-3.94],[236,-5.32],[237,-3.67],
[238,-4.27],[239,-5.00],[240,-3.87],[241,-5.34],[242,-4.44],[243,-3.65],[244,-4.78],[245,-4.04],[246,-5.57],[247,-4.55],
[248,-4.15],[249,-5.41],[250,-4.49],[251,-5.07],[252,-3.92],[253,-5.70],[254,-4.32],[255,-4.84],[256,-3.74],[257,-5.24],
[258,-4.38],[259,-5.44],[260,-4.09],[261,-5.08],[262,-4.73],
[17.25,-0.61],[18.25,-0.99],[19.25,-0.79],[20.25,-1.12],[21.25,-0.69],[22.25,-1.0],[23.25,-0.63],[24.25,-1.15],[25.25,-0.82],[26.25,-0.95],
[27.25,-0.84],[28.25,-1.32],[29.25,-0.97],[30.25,-0.74],[31.25,-1.13],[32.25,-1.31],[33.25,-1.01],[34.25,-0.76],[35.25,-1.2],[36.25,-0.9],
[37.25,-1.17],[38.25,-1.45],[39.25,-0.95],[40.25,-1.23],[41.25,-1.03],[42.25,-0.94],[43.25,-1.46],[44.25,-1.17],[45.25,-1.61],[46.25,-1.23],
[47.25,-1.49],[48.25,-1.13],[49.25,-1.64],[50.25,-1.22],[51.25,-1.37],[52.25,-1.06],[53.25,-1.51],[54.25,-1.27],[55.25,-1.69],[56.25,-1.36],
[57.25,-1.85],[58.25,-1.32],[59.25,-1.63],[60.25,-1.23],[61.25,-1.51],[62.25,-1.46],[63.25,-1.84],[64.25,-1.24],[65.25,-1.62],[66.25,-1.78],
[67.25,-1.44],[68.25,-2.06],[69.25,-1.61],[70.25,-1.83],[71.25,-1.35],[72.25,-1.83],[73.25,-1.5],[74.25,-2.06],[75.25,-1.36],[76.25,-1.89],
[77.25,-1.74],[78.25,-2.04],[79.25,-1.51],[80.25,-2.21],[81.25,-1.67],[82.25,-2.16],[83.25,-1.89],[84.25,-1.61],[85.25,-2.02],[86.25,-1.51],
[87.25,-1.8],[88.25,-2.36],[89.25,-2.01],[90.25,-1.63],[91.25,-2.19],[92.25,-2.52],[93.25,-1.95],[94.25,-2.16],[95.25,-1.84],[96.25,-2.38],
[97.25,-1.81],[98.25,-2.35],[99.25,-2.06],[100.25,-2.57],[101.25,-2.13],[102.25,-2.41],[103.25,-1.93],[104.25,-2.63],[105.25,-2.19],[106.25,-2.04],
[107.25,-1.88],[108.25,-2.61],[109.25,-2.15],[110.25,-2.42],[111.25,-2.76],[112.25,-2.38],[113.25,-2.11],[114.25,-2.77],[115.25,-2.27],[116.25,-2.65],
[117.25,-2.63],[118.25,-2.08],[119.25,-2.98],[120.25,-2.27],[121.25,-2.51],[122.25,-2.31],[123.25,-2.79],[124.25,-2.51],[125.25,-2.99],[126.25,-2.23],
[127.25,-2.99],[128.25,-2.51],[129.25,-2.18],[130.25,-2.83],[131.25,-2.71],[132.25,-2.55],[133.25,-3.22],[134.25,-2.72],[135.25,-2.43],[136.25,-3.01],
[137.25,-2.92],[138.25,-2.42],[139.25,-3.22],[140.25,-2.71],[141.25,-3.34],[142.25,-2.53],[143.25,-3.09],[144.25,-2.66],[145.25,-3.22],[146.25,-2.92],
[147.25,-3.45],[148.25,-2.92],[149.25,-3.14],[150.25,-2.49],[151.25,-2.79],[152.25,-2.91],[153.25,-3.62],[154.25,-2.74],[155.25,-3.13],[156.25,-3.35],
[157.25,-3.4],[158.25,-2.86],[159.25,-3.53],[160.25,-2.68],[161.25,-3.13],[162.25,-3.17],[163.25,-3.72],[164.25,-2.71],[165.25,-3.4],[166.25,-2.99],
[167.25,-3.85],[168.25,-3.15],[169.25,-3.39],[170.25,-2.92],[171.25,-3.62],[172.25,-3.14],[173.25,-3.75],[174.25,-2.9],[175.25,-3.51],[176.25,-3.42],
[177.25,-3.7],[178.25,-3.13],[179.25,-4.08],[180.25,-3.37],[181.25,-3.04],[182.25,-3.54],[183.25,-4.03],[184.25,-3.35],[185.25,-3.83],[186.25,-3.01],
[187.25,-4.01],[188.25,-3.38],[189.25,-3.77],[190.25,-3.18],[191.25,-4.21],[192.25,-3.31],[193.25,-3.96],[194.25,-3.66],[195.25,-4.36],[196.25,-3.51],
[197.25,-3.89],[198.25,-3.28],[199.25,-4.24],[200.25,-3.64],[201.25,-4.09],[202.25,-3.56],[203.25,-4.43],[204.25,-3.92],[205.25,-3.31],[206.25,-4.07],
[207.25,-4.32],[208.25,-3.85],[209.25,-4.58],[210.25,-3.59],[211.25,-3.96],[212.25,-3.57],[213.25,-4.2],[214.25,-3.83],[215.25,-4.56],[216.25,-4.3],
[217.25,-4.81],[218.25,-3.8],[219.25,-4.17],[220.25,-3.96],[221.25,-4.54],[222.25,-4.1],[223.25,-4.53],[224.25,-3.67],[225.25,-4.8],[226.25,-4.15],
[227.25,-4.78],[228.25,-3.85],[229.25,-4.5],[230.25,-4.01],[231.25,-4.99],[232.25,-4.14],[233.25,-4.42],[234.25,-4.81],[235.25,-3.75],[236.25,-4.53],
[237.25,-4.73],[238.25,-3.95],[239.25,-5.13],[240.25,-4.4],[241.25,-4.12],[242.25,-4.13],[243.25,-4.93],[244.25,-4.36],[245.25,-5.1],[246.25,-4.65],
[247.25,-4.79],[248.25,-4.04],[249.25,-5.07],[250.25,-4.38],[251.25,-5.36],[252.25,-4.41],[253.25,-4.93],[254.25,-4.24],[255.25,-5.22],[256.25,-4.76],
[257.25,-5.14],[258.25,-4.37],[259.25,-5.43],[260.25,-4.66],[261.25,-4.19],
[116.3,-4.13],[121,-4.7],[133.7,-4.86],[145.4,-5.64],[166,-7.4],[174.2,-7.75],[179,-7.75],[181.5,-8.96],[202.4,-10.0],[219,-9.83],[233.4,-8.6],[240.7,-8.6],[241.3,-9.4],[254,-8.6],[19,-0.2],[22,-0.3],[30,-0.35]
];

const serif='Liberation Serif';
const txt='#1a1a1a';
const minusFmt=v=>(v<0?'\u2212':'')+Math.abs(v);
const XMIN=-38, XMAX=272;
const grids=[
  {left:55,top:2,width:328,height:275},
  {left:55,top:285,width:328,height:133},
  {left:55,top:427,width:328,height:134}
];
const gridStyle={show:true,borderColor:'#3c3c3c',borderWidth:1.5,backgroundColor:'transparent'};
function makeX(gi,withLabels){
  return [{
    type:'value',gridIndex:gi,min:XMIN,max:XMAX,position:'bottom',
    axisLine:{show:false},
    axisTick:{show:true,inside:true,length:7,customValues:xMajorTicks,lineStyle:{color:'#333',width:1}},
    axisLabel:{show:withLabels,customValues:xMajorTicks,margin:10,color:txt,fontFamily:serif,fontSize:12},
    splitLine:{show:true,lineStyle:{color:'#c8c8c8',type:[1,3],width:1}},
    name:withLabels?'Delay time (ns)':'',nameLocation:'middle',nameGap:30,
    nameTextStyle:{fontFamily:serif,fontSize:15,color:txt}
  },{
    type:'value',gridIndex:gi,min:XMIN,max:XMAX,position:'bottom',
    axisLine:{show:false},
    axisTick:{show:true,inside:true,length:4,customValues:xMinorTicks,lineStyle:{color:'#333',width:1}},
    axisLabel:{show:false},splitLine:{show:false}
  }];
}
function makeY(gi,min,max,ticks,name,extra){
  return Object.assign({
    type:'value',gridIndex:gi,min:min,max:max,
    axisLine:{show:false},
    axisTick:{show:true,inside:true,length:5,customValues:ticks,lineStyle:{color:'#333',width:1}},
    axisLabel:{customValues:ticks,formatter:minusFmt,margin:8,color:txt,fontFamily:serif,fontSize:12},
    splitLine:{show:true,lineStyle:{color:'#c8c8c8',type:[1,3],width:1}},
    name:name,nameLocation:'middle',nameRotate:90,nameGap:38,
    nameTextStyle:{fontFamily:serif,fontSize:15,color:txt}
  },extra||{});
}
const option={
  animation:false,
  backgroundColor:'#fff',
  grid:grids.map(g=>Object.assign({},g,gridStyle)),
  xAxis:[].concat(makeX(0,false),makeX(1,false),makeX(2,true)),
  yAxis:[
    makeY(0,-0.09,1.043,yTicksA,'Ion signal (arb. units)'),
    makeY(1,-0.097,0.128,yTicksB,'Residuals'),
    makeY(2,-11,0.6,yTicksC,'{t|ln (}{i|I}{t| \u2212 \u03b2)}',{
      nameTextStyle:{fontFamily:serif,fontSize:15,color:txt,rich:{
        t:{fontFamily:serif,fontSize:15,color:txt},
        i:{fontFamily:serif,fontSize:15,color:txt,fontWeight:'bold',fontStyle:'italic'}
      }}
    })
  ],
  graphic:[
    {type:'text',right:9,top:14,style:{text:'(a)',font:'14px "Liberation Serif"',fill:txt}},
    {type:'text',right:9,top:297,style:{text:'(b)',font:'14px "Liberation Serif"',fill:txt}},
    {type:'text',right:9,top:439,style:{text:'(c)',font:'14px "Liberation Serif"',fill:txt}}
  ],
  series:[
    {type:'line',xAxisIndex:0,yAxisIndex:0,data:cyanPulse,showSymbol:false,symbol:'none',lineStyle:{color:'#6ee0ee',width:3},z:2},
    {type:'line',xAxisIndex:0,yAxisIndex:0,data:greenCurve,smooth:true,symbol:'none',lineStyle:{color:'#8de279',width:2,type:[7,4]},z:2},
    {type:'scatter',xAxisIndex:0,yAxisIndex:0,data:ionSignal,symbolSize:3.4,itemStyle:{color:'#000'},z:3},
    {type:'line',xAxisIndex:0,yAxisIndex:0,data:fitCurve,smooth:true,symbol:'none',lineStyle:{color:'#f47a20',width:3},z:4,
      markLine:{silent:true,symbol:'none',label:{show:false},lineStyle:{color:'#f47a20',width:1.5,type:'solid'},data:[{xAxis:fitStart}]}},
    {type:'scatter',xAxisIndex:2,yAxisIndex:1,data:residuals,symbolSize:3.3,itemStyle:{color:'#f7861f'},z:3,
      markLine:{silent:true,symbol:'none',label:{show:false},lineStyle:{color:'#222',width:1.2,type:'dotted'},data:[{yAxis:0}]}},
    {type:'scatter',xAxisIndex:4,yAxisIndex:2,data:lnSignal,symbolSize:3.4,itemStyle:{color:'#000'},z:3},
    {type:'line',xAxisIndex:4,yAxisIndex:2,data:lnFit,symbol:'none',lineStyle:{color:'#f47a20',width:3},z:4}
  ]
};
const chart=echarts.init(document.getElementById('c'));
chart.setOption(option);
</script></body></html>
